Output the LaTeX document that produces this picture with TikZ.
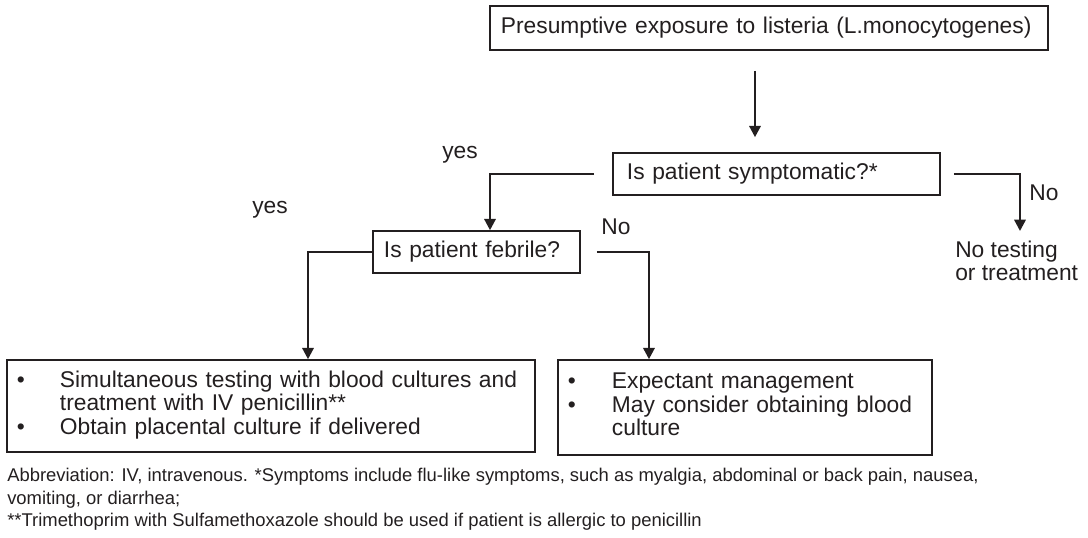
\documentclass[tikz,border=0pt]{standalone}
\usepackage{fontspec}
\setmainfont{Liberation Sans}
\usepackage{xcolor}
\usetikzlibrary{arrows.meta,positioning}

\definecolor{ink}{RGB}{35,31,32}
\newcommand{\mainsz}{\fontsize{16.2}{16.6}\selectfont}
\newcommand{\notesz}{\fontsize{13.1}{16}\selectfont}

\tikzset{
    box/.style={draw=ink, line width=1.1pt, text=ink, inner xsep=0.275cm, inner ysep=0pt, align=left, font=\mainsz},
    lbl/.style={text=ink, inner sep=0pt, font=\mainsz},
    conn/.style={draw=ink, line width=1.7pt, -{Triangle[length=8pt,width=8pt]}},
}

\begin{document}
\begin{tikzpicture}[x=0.025cm, y=-0.025cm]
    \useasboundingbox (0,0) rectangle (1088,538);

    \node[box, minimum width=13.95cm, minimum height=1.1cm, text width=13.4cm] (expo) at (769,28) {Presumptive exposure to listeria (L.monocytogenes)};
    \node[box, minimum width=8.175cm, minimum height=1.05cm, text width=7.475cm, inner xsep=0.35cm] (symp) at (776.5,174) {Is patient symptomatic?*};
    \node[box, minimum width=5.175cm, minimum height=1.05cm, text width=4.625cm] (febrile) at (476.5,252) {Is patient febrile?};
    \node[box, minimum width=13.2cm, minimum height=2.3cm, text width=12.7cm, inner xsep=0.25cm] (treat) at (271,406) {%
        \begin{tabular}{@{}p{1.075cm}@{}l@{}}
        \textbullet & Simultaneous testing with blood cultures and\\
                    & treatment with IV penicillin**\\
        \textbullet & Obtain placental culture if delivered
        \end{tabular}};
    \node[box, minimum width=9.35cm, minimum height=2.375cm, text width=8.85cm, inner xsep=0.25cm] (expect) at (745,407.5) {%
        \begin{tabular}{@{}p{1.1cm}@{}l@{}}
        \textbullet & Expectant management\\
        \textbullet & May consider obtaining blood\\
                    & culture
        \end{tabular}};

    \node[lbl] (yes1) at (460,155) {yes};
    \node[lbl] (yes2) at (270,210) {yes};
    \node[lbl] (no1) at (1044,193) {No};
    \node[lbl] (no2) at (616,227) {No};
    \node[lbl, anchor=north west, align=left, font=\fontsize{16.2}{15.8}\selectfont] (notest) at (955,241) {No testing\\or treatment};

    \coordinate (t1) at ([xshift=-0.35cm]expo.south);
    \coordinate (nt) at (1020,231);

    \draw[conn, shorten <=0.5cm, shorten >=0.375cm] (t1) -- (t1 |- symp.north);
    \draw[conn] ([xshift=-0.45cm]symp.west) -| ([xshift=0.3375cm]febrile.north);
    \draw[conn] ([xshift=0.325cm]symp.east) -| (nt);
    \draw[conn] (febrile.west) -| ([xshift=0.925cm]treat.north);
    \draw[conn] ([xshift=0.4cm]febrile.east) -| ([xshift=-2.4cm]expect.north);

    \node[text=ink, inner sep=0pt, anchor=north west, align=left, font=\notesz] (notes) at (7,468) {Abbreviation: IV, intravenous. *Symptoms include flu-like symptoms, such as myalgia, abdominal or back pain, nausea,\\vomiting, or diarrhea;\\**Trimethoprim with Sulfamethoxazole should be used if patient is allergic to penicillin};
\end{tikzpicture}
\end{document}
